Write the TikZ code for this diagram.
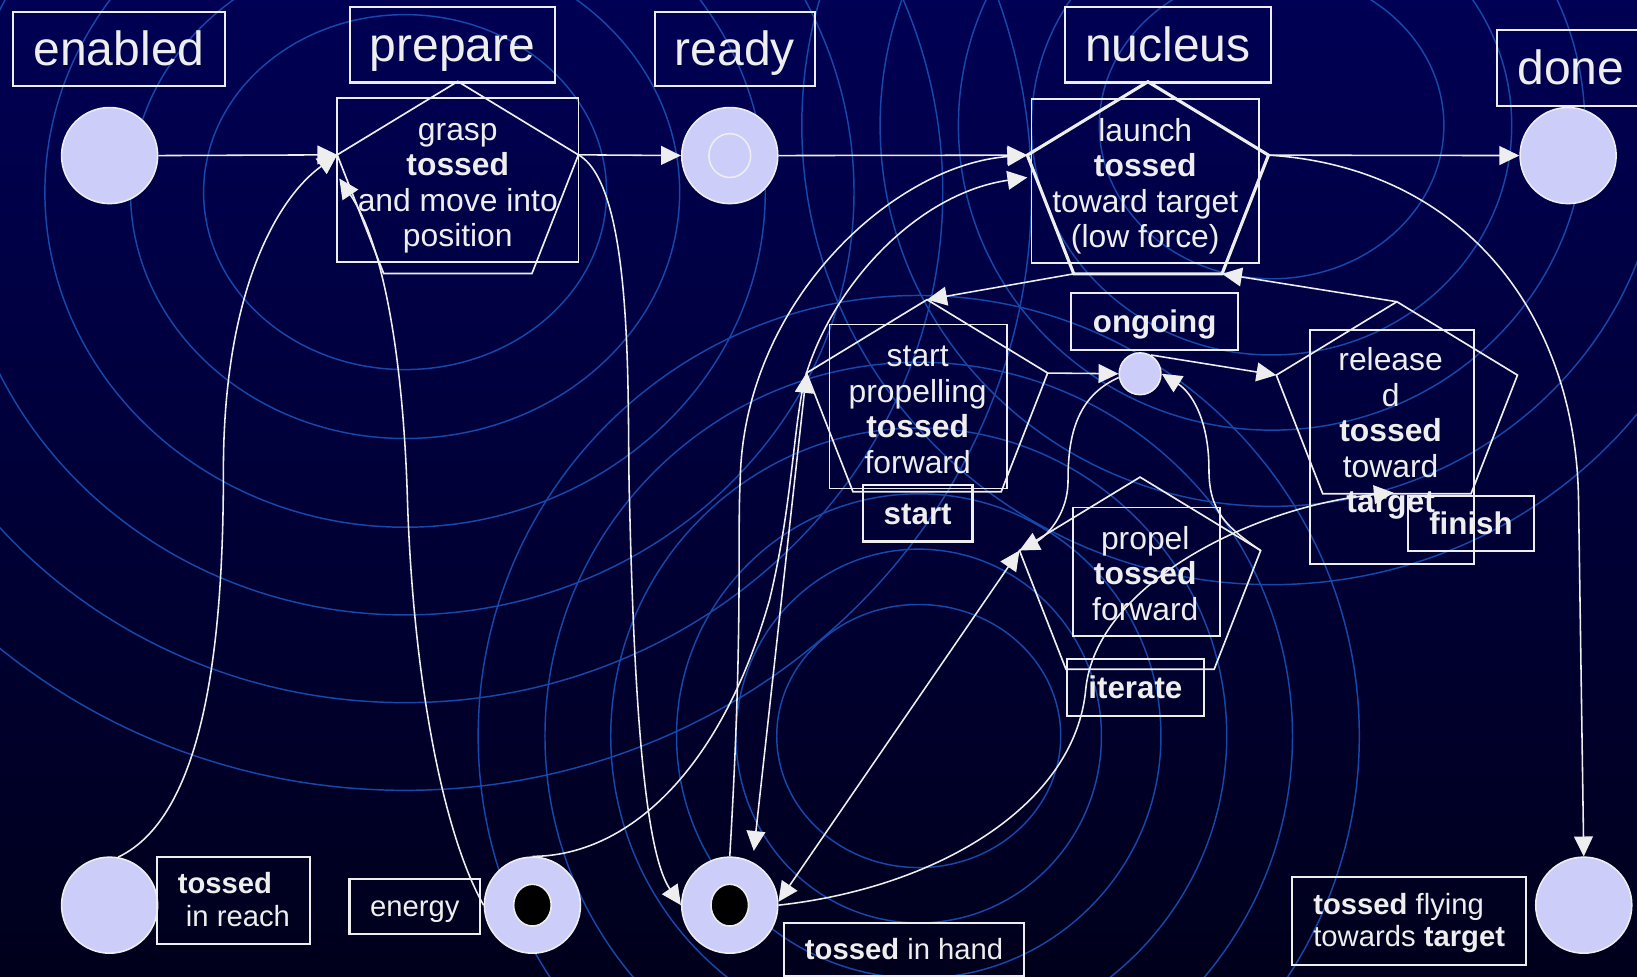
\documentclass[tikz,border=0pt]{standalone}
\usepackage{fontspec}
\setmainfont{Liberation Sans}
\usetikzlibrary{arrows.meta,calc,shapes.geometric}

\definecolor{bgtop}{RGB}{0,0,84}
\definecolor{bgmid}{RGB}{0,0,96}
\definecolor{bgbot}{RGB}{0,0,28}
\definecolor{ringblue}{RGB}{22,72,170}
\definecolor{ink}{RGB}{238,238,238}
\definecolor{token}{RGB}{205,205,250}

\tikzset{
  ringline/.style={draw=ringblue, line width=1.4pt},
  lblbox/.style={draw=ink, line width=2pt, text=ink, inner sep=0pt},
  bigfont/.style={font=\fontsize{46}{50}\selectfont, text height=32.2pt, text depth=0pt},
  tfont/.style={font=\fontsize{30}{34}\selectfont\bfseries, text height=21pt, text depth=0pt},
  pfont/.style={font=\fontsize{28}{31}\selectfont, text height=19.6pt, text depth=0pt},
  pfonttwo/.style={font=\fontsize{28}{31}\selectfont, align=left},
  trect/.style={draw=ink, line width=1.6pt, inner sep=0pt},
  ttext/.style={text=ink, align=center, inner sep=0pt, font=\fontsize{30.5}{34}\selectfont},
  pentline/.style={draw=ink, line width=1.6pt},
  tokplace/.style={circle, draw=ink, line width=1.5pt, fill=token,
                   minimum size=92pt, inner sep=0pt},
  smallplace/.style={circle, draw=ink, line width=1.5pt, fill=token,
                     minimum size=40pt, inner sep=0pt},
  blacktoken/.style={ellipse, draw=ink, line width=1.5pt, fill=black,
                     minimum width=36pt, minimum height=40pt, inner sep=0pt},
  hollowmark/.style={ellipse, draw=ink, line width=1.5pt,
                     minimum width=40pt, minimum height=42pt, inner sep=0pt},
  flow/.style={draw=ink, line width=1.5pt, -{Triangle[length=19pt,width=18pt]}},
  biflow/.style={draw=ink, line width=1.5pt,
                 {Triangle[length=19pt,width=18pt]}-{Triangle[length=19pt,width=18pt]}}
}

% pentagon of a transition: named corners <name>-t, -l, -r, -bl, -br
\newcommand\tpent[4][]{%
  \coordinate (#2-t)  at (#3, #4-101.7);
  \coordinate (#2-l)  at (#3-115.5, #4-31.4);
  \coordinate (#2-r)  at (#3+115.5, #4-31.4);
  \coordinate (#2-bl) at (#3-71, #4+82.3);
  \coordinate (#2-br) at (#3+71, #4+82.3);
  \draw[pentline,#1] (#2-t) -- (#2-r) -- (#2-br) -- (#2-bl) -- (#2-l) -- cycle;
}

\begin{document}
\begin{tikzpicture}[x=1pt,y=-1pt]
\useasboundingbox (0,0) rectangle (1568,935);
\clip (0,0) rectangle (1568,935);

% background
\fill[top color=bgtop, middle color=bgmid, bottom color=bgbot] (0,0) rectangle (1568,935);

% ripples
\foreach \rx/\ry in {193/170, 263/236, 345/321, 430/405, 515/489, 600/573}
  \draw[ringline] (388,184) ellipse [x radius=\rx, y radius=\ry];
\foreach \rx/\ry in {165/147, 230/220, 300/292, 375/365, 450/440}
  \draw[ringline] (1218,120) ellipse [x radius=\rx, y radius=\ry];
\foreach \rx/\ry in {136/126, 175/179, 232/232, 295/295, 358/358, 422/422}
  \draw[ringline] (880,705) ellipse [x radius=\rx, y radius=\ry];

% headings
\node[lblbox, bigfont, minimum width=203, minimum height=71] (lblEnabled) at (114,46.8) {enabled};
\node[lblbox, bigfont, minimum width=197, minimum height=72] (lblPrepare) at (433.4,43) {prepare};
\node[lblbox, bigfont, minimum width=153, minimum height=71] (lblReady) at (703.9,46.8) {ready};
\node[lblbox, bigfont, minimum width=197, minimum height=72] (lblNucleus) at (1118.6,43) {nucleus};
\node[lblbox, bigfont, minimum width=141, minimum height=72.5] (lblDone) at (1504.5,65) {done};

% transitions
\node[trect, minimum width=231, minimum height=157] (prepBox) at (438.5,172.5) {};
\tpent{prep}{438.5}{179.7}
\node[ttext] (prepText) at (438.5,178.5)
  {\strut grasp\\\strut\textbf{tossed}\\\strut and move into\\\strut position};

\node[trect, minimum width=218, minimum height=157] (nucBox) at (1097,173.5) {};
\tpent[line width=3pt]{nuc}{1099.5}{180}
\node[ttext] (nucText) at (1097,179.5)
  {\strut launch\\\strut\textbf{tossed}\\\strut toward target\\\strut (low force)};

\node[trect, minimum width=170, minimum height=157] (startBox) at (879.5,389.3) {};
\tpent{start}{888}{388.7}
\node[ttext] (startText) at (879,395.5)
  {\strut start\\\strut propelling\\\strut\textbf{tossed}\\\strut forward};

\node[trect, minimum width=141, minimum height=123] (propBox) at (1098,547.5) {};
\tpent{prop}{1092}{558.7}
\node[ttext] (propText) at (1097,553.5)
  {\strut propel\\\strut\textbf{tossed}\\\strut forward};

\node[trect, minimum width=157, minimum height=224] (relBox) at (1333.3,428) {};
\tpent{rel}{1338}{390.7}
\node[ttext] (relText) at (1332,416.5)
  {\strut release\\\strut d\\\strut\textbf{tossed}\\\strut toward\\\strut\textbf{target}};

% transition tags
\node[lblbox, tfont, minimum width=105, minimum height=54] (lblStart) at (879,491.7) {start};
\node[lblbox, tfont, minimum width=160, minimum height=54] (lblOngoing) at (1106,308) {ongoing};
\node[lblbox, tfont, minimum width=131, minimum height=55] (lblIterate) at (1087.5,658.5) {iterate};
\node[lblbox, tfont, minimum width=120, minimum height=53] (lblFinish) at (1409,501.5) {finish};

% places
\node[tokplace] (pEnabled) at (105,149) {};
\node[tokplace] (pReady) at (699,149) {};
\node[hollowmark] (pReadyMark) at (pReady) {};
\node[tokplace] (pDone) at (1502,149) {};
\node[smallplace] (pOngoing) at (1092,358) {};
\node[tokplace] (pReach) at (105,867) {};
\node[tokplace] (pEnergy) at (510,867) {};
\node[blacktoken] (pEnergyTok) at (pEnergy) {};
\node[tokplace] (pHand) at (699,867) {};
\node[blacktoken] (pHandTok) at (pHand) {};
\node[tokplace] (pFlying) at (1517,867) {};

% place captions
\node[lblbox, pfonttwo, minimum width=146.7, minimum height=83.5] (lblReach) at (224,862.3) {};
\node[text=ink, pfonttwo, inner sep=0pt] (txtReach) at (224,865.3)
  {\strut\textbf{tossed}\\\strut\hspace*{0.28em}in reach};
\node[lblbox, pfont, minimum width=125, minimum height=52.6] (lblEnergy) at (397.3,868.3) {energy};
\node[lblbox, pfont, minimum width=229.6, minimum height=51.2] (lblHand) at (866,909.4)
  {\textbf{tossed} in hand};
\node[lblbox, pfonttwo, minimum width=224, minimum height=84.6] (lblFlying) at (1349.75,882) {};
\node[text=ink, pfonttwo, inner sep=0pt] (txtFlying) at (1349.75,885)
  {\strut\textbf{tossed} flying\\\strut towards \textbf{target}};

% arc end points on transitions
\coordinate (prepIn) at (325,171);
\coordinate (nucIn) at (984,170);
\coordinate (handIn) at (722,815);
\coordinate (relIn) at (1335,472);

% arcs
\draw[flow] (pEnabled.east) -- (prep-l);
\draw[flow] (prep-r) -- (pReady.west);
\draw[flow] (pReady.east) -- (nuc-l);
\draw[flow] (nuc-r) -- (pDone.west);

\draw[flow] (pReach.80) .. controls (200,780) and (214,600) .. (214,450)
  .. controls (214,280) and (265,190) .. (prep-l);
\draw[flow] (pEnergy.west) .. controls (425,800) and (395,650) .. (390,470)
  .. controls (385,330) and (365,230) .. (prepIn);
\draw[flow] (prep-r) .. controls (610,180) and (600,400) .. (603,480)
  .. controls (608,700) and (620,820) .. (pHand.west);

\draw[flow] (pHand.north) .. controls (712,600) and (706,520) .. (709,460)
  .. controls (712,290) and (855,158) .. (nuc-l);
\draw[flow] (pEnergy.north) .. controls (600,820) and (690,740) .. (737,575)
  .. controls (760,480) and (760,400) .. (start-l)
  .. controls (800,270) and (880,185) .. (nucIn);
\draw[biflow] (start-l) -- (handIn);
\draw[biflow] (pHand.4) -- (prop-l);
\draw[flow] (pHand.east) .. controls (900,850) and (1030,770) .. (1040,660)
  .. controls (1050,560) and (1200,485) .. (relIn);

\draw[flow] (nuc-bl) -- (start-t);
\draw[flow] (rel-t) -- (nuc-br);
\draw[flow] (start-r) -- (pOngoing.west);
\draw[flow] (pOngoing.60) -- (rel-l);
\draw[flow] (pOngoing.190) .. controls (1030,380) and (1023,420) .. (1023,460)
  .. controls (1023,495) and (1000,515) .. (prop-l);
\draw[flow] (prop-r) .. controls (1175,505) and (1158,490) .. (1158,450)
  .. controls (1158,400) and (1140,375) .. (pOngoing.east);
\draw[flow] (nuc-r) .. controls (1400,160) and (1510,300) .. (1512,480)
  -- (pFlying.north);
\end{tikzpicture}
\end{document}
